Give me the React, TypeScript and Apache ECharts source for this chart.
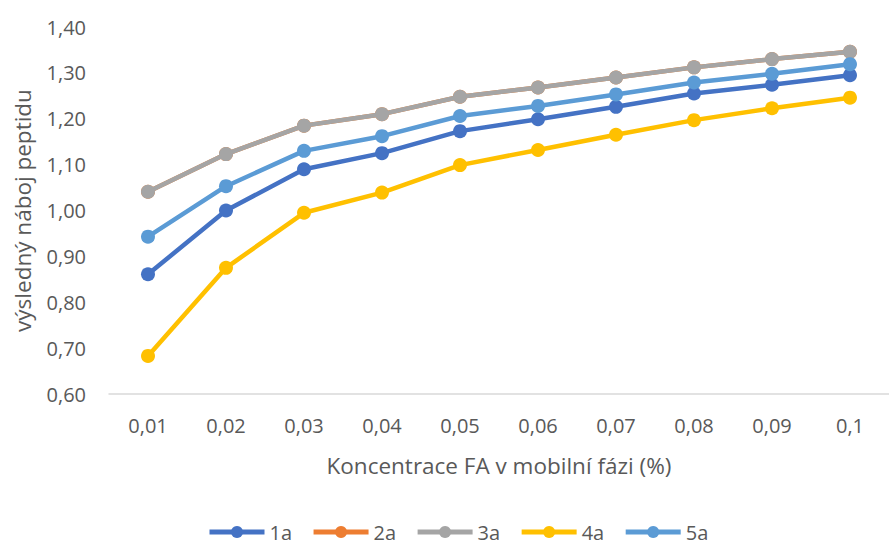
import React, { useEffect, useRef } from "react";
import * as echarts from "echarts";

const categories = ["0,01", "0,02", "0,03", "0,04", "0,05", "0,06", "0,07", "0,08", "0,09", "0,1"];
const s1a = [0.861, 1.0, 1.09, 1.125, 1.173, 1.199, 1.226, 1.255, 1.274, 1.295];
const s2a = [1.041, 1.123, 1.185, 1.21, 1.248, 1.268, 1.29, 1.312, 1.33, 1.346];
const s3a = [1.041, 1.123, 1.185, 1.21, 1.248, 1.268, 1.29, 1.312, 1.33, 1.346];
const s4a = [0.683, 0.875, 0.995, 1.039, 1.099, 1.132, 1.165, 1.197, 1.223, 1.246];
const s5a = [0.943, 1.053, 1.13, 1.162, 1.206, 1.228, 1.253, 1.279, 1.298, 1.319];
const seriesNames = ["1a", "2a", "3a", "4a", "5a"];
const seriesColors = ["#4472C4", "#ED7D31", "#A5A5A5", "#FFC000", "#5B9BD5"];

const FONT = "'Open Sans', Lato, sans-serif";
const TEXT = "#595959";

export default function App() {
  const ref = useRef<HTMLDivElement>(null);
  useEffect(() => {
    if (!ref.current) return;
    const chart = echarts.init(ref.current, undefined, { renderer: "svg" });
    const data = [s1a, s2a, s3a, s4a, s5a];
    chart.setOption({
      animation: false,
      textStyle: { fontFamily: FONT, color: TEXT },
      grid: { left: 109, right: -12, top: 27, bottom: 150, containLabel: false },
      legend: {
        data: seriesNames,
        top: 522,
        left: 207,
        padding: 0,
        itemWidth: 55,
        itemHeight: 15,
        itemGap: 19,
        lineStyle: { width: 5 },
        textStyle: { fontFamily: FONT, fontSize: 20, lineHeight: 20, color: TEXT },
      },
      xAxis: {
        type: "category",
        data: categories,
        boundaryGap: true,
        axisLine: { lineStyle: { color: "#D9D9D9", width: 1.5 } },
        axisTick: { show: false },
        axisLabel: { fontFamily: FONT, fontSize: 20, color: TEXT, margin: 21 },
        name: "Koncentrace FA v mobilní fázi (%)",
        nameLocation: "middle",
        nameGap: 71,
        nameTextStyle: { fontFamily: FONT, fontSize: 22.5, color: TEXT, verticalAlign: "middle" },
      },
      yAxis: {
        type: "value",
        min: 0.6,
        max: 1.4,
        interval: 0.1,
        axisLine: { show: false },
        axisTick: { show: false },
        splitLine: { show: false },
        axisLabel: {
          fontFamily: FONT,
          fontSize: 20,
          color: TEXT,
          margin: 23,
          formatter: (v: number) => v.toFixed(2).replace(".", ","),
        },
        name: "výsledný náboj peptidu",
        nameLocation: "middle",
        nameGap: 87,
        nameRotate: 90,
        nameTextStyle: { fontFamily: FONT, fontSize: 22.5, color: TEXT, verticalAlign: "middle" },
      },
      series: seriesNames.map((n, i) => ({
        name: n,
        type: "line",
        data: data[i],
        symbol: "circle",
        symbolSize: 14,
        color: seriesColors[i],
        lineStyle: { width: 4.5, color: seriesColors[i] },
        itemStyle: { color: seriesColors[i] },
        z: 2 + i,
      })),
    });
    return () => chart.dispose();
  }, []);
  return <div ref={ref} style={{ width: 889, height: 544, position: "absolute", left: 0, top: 0 }} />;
}
